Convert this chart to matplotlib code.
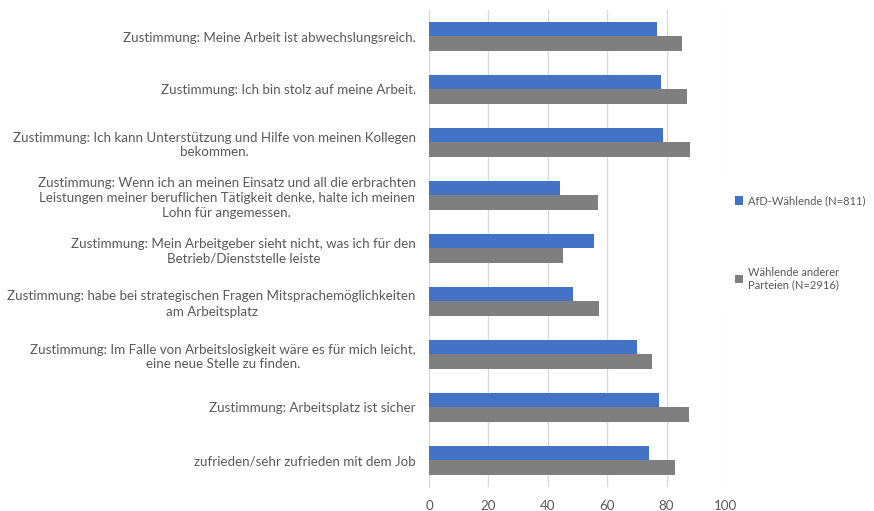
import matplotlib
matplotlib.use("Agg")
import matplotlib.pyplot as plt
from matplotlib.patches import Rectangle
import numpy as np

# categories, top to bottom as in the chart
labels = [
    "Zustimmung: Meine Arbeit ist abwechslungsreich.",
    "Zustimmung: Ich bin stolz auf meine Arbeit.",
    "Zustimmung: Ich kann Unterstützung und Hilfe von meinen Kollegen\nbekommen.",
    "Zustimmung: Wenn ich an meinen Einsatz und all die erbrachten\nLeistungen meiner beruflichen Tätigkeit denke, halte ich meinen\nLohn für angemessen.",
    "Zustimmung: Mein Arbeitgeber sieht nicht, was ich für den\nBetrieb/Dienststelle leiste",
    "Zustimmung: habe bei strategischen Fragen Mitsprachemöglichkeiten\nam Arbeitsplatz",
    "Zustimmung: Im Falle von Arbeitslosigkeit wäre es für mich leicht,\neine neue Stelle zu finden.",
    "Zustimmung: Arbeitsplatz ist sicher",
    "zufrieden/sehr zufrieden mit dem Job",
]
afd = [76.7, 78.1, 78.7, 44.2, 55.7, 48.4, 70.0, 77.4, 74.2]
andere = [85.3, 86.9, 87.8, 56.9, 45.1, 57.3, 75.2, 87.6, 82.9]
series_names = ["AfD-Wählende (N=811)", "Wählende anderer\nParteien (N=2916)"]
xticks = [0, 20, 40, 60, 80, 100]

plt.rcParams['font.family'] = ['Lato', 'DejaVu Sans']
txt = '#595959'
fs = 9.6

fig = plt.figure(figsize=(8.74, 5.11), dpi=100)
ax = fig.add_axes([429/874, 24/511, 297/874, 477/511])

y = np.arange(len(labels))
h = 0.283
b1 = ax.barh(y - h/2, afd, height=h, color='#4472C4', label=series_names[0], zorder=3)
b2 = ax.barh(y + h/2, andere, height=h, color='#7F7F7F', label=series_names[1], zorder=3)

ax.set_ylim(len(labels) - 0.5, -0.5)
ax.set_xlim(0, 100)
ax.set_xticks(xticks)
ax.set_yticks(y)
ax.set_yticklabels(labels, multialignment='center', linespacing=1.3)
ax.tick_params(axis='y', length=0, pad=9.5, labelsize=fs, labelcolor=txt)
ax.tick_params(axis='x', length=0, pad=9, labelsize=fs, labelcolor=txt)
ax.grid(axis='x', color='#d9d9d9', linewidth=0.9, zorder=0)
for s in ['top', 'right', 'bottom']:
    ax.spines[s].set_visible(False)
ax.spines['left'].set_color('#d9d9d9')

# white legend area that hides the 100 gridline, like the original
fig.patches.append(Rectangle((723/874, 1 - 308/511), 151/874, 131/511,
                             transform=fig.transFigure, facecolor='white',
                             edgecolor='none', zorder=5))

leg = fig.legend(handles=[b1, b2], loc='center left', bbox_to_anchor=(729/874, 1 - 243/511),
                 frameon=False, fontsize=8.0, labelcolor=txt, handlelength=0.8,
                 handleheight=0.8, handletextpad=0.45, labelspacing=5.4, borderpad=0)
leg.set_zorder(10)

fig.savefig("out.png", dpi=100)
